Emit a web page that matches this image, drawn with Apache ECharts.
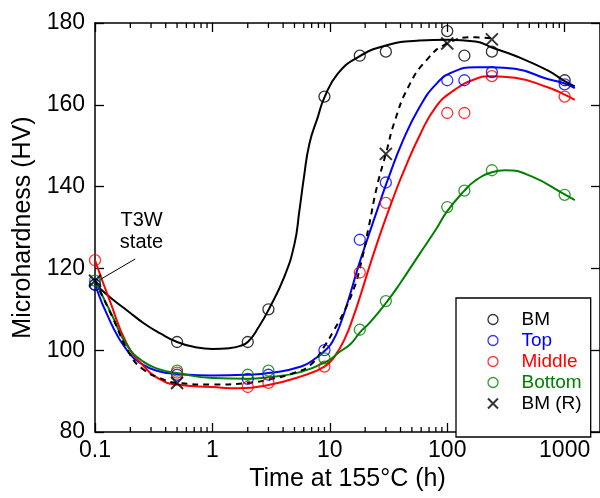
<!DOCTYPE html>
<html>
<head>
<meta charset="utf-8">
<script src="https://cdn.jsdelivr.net/npm/echarts@6/dist/echarts.min.js"></script>
<style>
html,body{margin:0;padding:0;background:#fff;}
#chart{width:600px;height:498px;}
</style>
</head>
<body>
<div id="chart"></div>
<script>
// ---------- data ----------
const xTickLabels = ['0.1', '1', '10', '100', '1000'];
const minorTickValues = [0.2,0.3,0.4,0.5,0.6,0.7,0.8,0.9, 2,3,4,5,6,7,8,9, 20,30,40,50,60,70,80,90, 200,300,400,500,600,700,800,900];

const sampleTimes = [0.1, 0.5, 2, 3, 9, 18, 30, 100, 140, 240, 1000];
const bmHV     = [116, 102, 102, 110, 162, 172, 173, 178, 172, 173, 166];
const topHV    = [116, 94, 93, 94, 100, 127, 141, 166, 166, 168, 165];
const middleHV = [122, 94.5, 91, 92, 96, 119, 136, 158, 158, 167, 162];
const bottomHV = [117, 95, 94, 95, 98, 105, 112, 135, 139, 144, 138];
const bmrTimes = [0.1, 0.5, 30, 100, 240];
const bmrHV    = [117, 92, 148, 175, 176];

// fitted curves
const bmFitT  = [0.1,0.14,0.19,0.26,0.36,0.5,0.7,1,1.4,1.7,2,2.47,3,4.1,5,5.5,6,6.7,7.9,9,11.6,17,30,58,100,174,240,378,716,1000,1220];
const bmFitHV = [116.2,112.5,109.6,106.6,104.1,102,100.8,100.3,100.5,101,102,105.6,109.8,118,126,134,142,150.5,157,161.8,167.5,171.5,174.5,175.7,175.9,175.5,174,172,168.4,165.8,164.5];

const topFitT  = [0.1,0.135,0.187,0.258,0.356,0.5,1,2,3,5.7,7.9,9,10.5,12.5,15,17.5,20.8,25.5,31,42,58,80,111,174,240,378,716,1000,1220];
const topFitHV = [116,107,100,96.4,94.8,94.2,93.8,94,94.4,96,98.4,99.8,102,107,114,120.5,127,134.5,141.5,151.3,159.4,165,168,169.2,169.2,168.8,166.3,165.2,164.1];

const midFitT  = [0.1,0.136,0.187,0.258,0.356,0.49,1,1.67,3,5.7,9,11,13.5,16,18.5,21.5,25.5,30.6,36,42.2,58.2,80,111,174,240,378,716,1000,1220];
const midFitHV = [122,111.5,101.5,96.2,92.9,91.6,91,90.7,91.5,93.6,96,98.5,103,108.5,114,120,126.5,133,138.5,143.5,152.5,159.5,163.3,166.3,167,166.6,164.3,162.5,161.2];

const botFitT  = [0.1,0.14,0.187,0.258,0.356,0.5,1,2,3,5.7,9.6,12,15,18,22,30,40,58,80,100,140,174,240,311,522,1000,1220];
const botFitHV = [117,108.5,101.2,97.2,95.3,94.4,93.2,93,93.4,94.7,97.4,99.5,101.5,104.3,106.8,111.5,116.5,123.5,129.5,134,139,141.5,143.5,144,142.5,138.1,136.7];

const bmrFitT  = [0.1,0.14,0.2,0.258,0.356,0.5,1,2,3,5,6.9,9,10.9,13,16,18,21.4,25.2,30,35.9,46.5,66,100,174,240];
const bmrFitHV = [117,108.2,98.8,95.3,93.2,92,91.6,92,92.8,94.5,96.5,101,105,109,115,120,130,140,148,156.2,164.3,170.8,175,176.5,176.2];

// annotation
const noteText = 'T3W\nstate';
const notePos = [0.249, 129];
const noteLine = [[0.105, 116.9], [0.22, 122.3]];

const xMin = 0.1, xMax = 2000, yMin = 80, yMax = 180, yStep = 20;

// ---------- helpers ----------
const zip = (a, b) => a.map((v, i) => [v, b[i]]);
const FONT = 'Liberation Sans, Arial, Helvetica, sans-serif';
const BLACK = '#000000', BLUE = '#0000ff', RED = '#ff0000', GREEN = '#008000';
const XPATH = 'path://M0,0L10,10M10,0L0,10';

function circleSeries(name, data, color) {
  return {
    name, type: 'scatter', data, symbol: 'circle', symbolSize: 11, z: 5,
    itemStyle: { color: 'rgba(0,0,0,0)', borderColor: color, borderWidth: 1.3 }
  };
}
function fitSeries(name, data, color, dashed) {
  return {
    name, type: 'line', data, showSymbol: false, smooth: 0.5, z: 3,
    lineStyle: { color, width: 2, type: dashed ? [6, 5] : 'solid' },
    emphasis: { disabled: true }
  };
}

const chart = echarts.init(document.getElementById('chart'), null, { renderer: 'canvas' });

const axisLineStyle = { color: BLACK, width: 1.5 };
const tickStyle = { color: BLACK, width: 1.3 };

const option = {
  animation: false,
  backgroundColor: '#ffffff',
  textStyle: { fontFamily: FONT },
  grid: { left: 95, right: -7, top: 23, bottom: 66, containLabel: false },
  xAxis: [
    {
      type: 'log', logBase: 10, min: xMin, max: xMax, position: 'bottom',
      axisLine: { show: true, lineStyle: axisLineStyle },
      axisTick: { show: true, inside: true, length: 9, lineStyle: tickStyle },
      splitLine: { show: false },
      axisLabel: {
        show: true, fontSize: 23, color: BLACK, fontFamily: FONT, margin: 7,
        showMaxLabel: false,
        formatter: function (v) {
          const l = Math.log10(v); const r = Math.round(l);
          if (Math.abs(l - r) > 1e-6) return '';
          const idx = r + 1;
          return xTickLabels[idx] !== undefined ? xTickLabels[idx] : '';
        }
      },
      name: 'Time at 155°C (h)', nameLocation: 'middle', nameGap: 34,
      nameTextStyle: { fontSize: 25, color: BLACK, fontFamily: FONT }
    },
    {
      type: 'log', logBase: 10, min: xMin, max: xMax, position: 'top',
      axisLine: { show: true, lineStyle: axisLineStyle },
      axisTick: { show: true, inside: true, length: 9, lineStyle: tickStyle },
      splitLine: { show: false }, axisLabel: { show: false }
    }
  ],
  yAxis: [
    {
      type: 'value', min: yMin, max: yMax, interval: yStep, position: 'left',
      axisLine: { show: true, lineStyle: axisLineStyle },
      axisTick: { show: true, inside: true, length: 9, lineStyle: tickStyle },
      splitLine: { show: false },
      axisLabel: { fontSize: 23, color: BLACK, fontFamily: FONT, margin: 10 },
      name: 'Microhardness (HV)', nameLocation: 'middle', nameGap: 58, nameRotate: 90,
      nameTextStyle: { fontSize: 25, color: BLACK, fontFamily: FONT }
    },
    {
      type: 'value', min: yMin, max: yMax, interval: yStep, position: 'right',
      axisLine: { show: true, lineStyle: axisLineStyle },
      axisTick: { show: true, inside: true, length: 9, lineStyle: tickStyle },
      splitLine: { show: false }, axisLabel: { show: false }
    }
  ],
  legend: {
    left: 456, top: 298, orient: 'vertical',
    padding: [12, 9, 24, 31],
    itemWidth: 47, itemHeight: 10, itemGap: 2,
    borderColor: BLACK, borderWidth: 1.3, backgroundColor: '#ffffff',
    selectedMode: false,
    textStyle: { fontSize: 19, lineHeight: 19, fontFamily: FONT },
    data: [
      { name: 'BM', icon: 'circle', itemStyle: { color: 'rgba(0,0,0,0)', borderColor: BLACK, borderWidth: 1.3 }, textStyle: { color: BLACK } },
      { name: 'Top', icon: 'circle', itemStyle: { color: 'rgba(0,0,0,0)', borderColor: BLUE, borderWidth: 1.3 }, textStyle: { color: BLUE } },
      { name: 'Middle', icon: 'circle', itemStyle: { color: 'rgba(0,0,0,0)', borderColor: RED, borderWidth: 1.3 }, textStyle: { color: RED } },
      { name: 'Bottom', icon: 'circle', itemStyle: { color: 'rgba(0,0,0,0)', borderColor: GREEN, borderWidth: 1.3 }, textStyle: { color: GREEN } },
      { name: 'BM (R)', icon: XPATH, itemStyle: { color: 'rgba(0,0,0,0)', borderColor: BLACK, borderWidth: 2 }, textStyle: { color: BLACK } }
    ]
  },
  series: [
    {
      name: 'minorTicks', type: 'custom', silent: true, z: 1, clip: false,
      data: minorTickValues.map(v => [v, yMin]),
      encode: { x: 0, y: 1 },
      renderItem: function (params, api) {
        const v = api.value(0);
        const b = api.coord([v, yMin]);
        const t = api.coord([v, yMax]);
        const st = { stroke: BLACK, lineWidth: 1.3 };
        return {
          type: 'group', children: [
            { type: 'line', shape: { x1: b[0], y1: b[1], x2: b[0], y2: b[1] - 5 }, style: st },
            { type: 'line', shape: { x1: t[0], y1: t[1], x2: t[0], y2: t[1] + 5 }, style: st }
          ]
        };
      }
    },
    Object.assign(fitSeries('BM fit', zip(bmFitT, bmFitHV), BLACK, false), {
      markLine: {
        silent: true, symbol: ['none', 'none'], label: { show: false },
        lineStyle: { color: BLACK, width: 1, type: 'solid' },
        data: [[{ coord: noteLine[0] }, { coord: noteLine[1] }]]
      },
      markPoint: {
        silent: true, symbol: 'rect', symbolSize: 1,
        itemStyle: { color: 'rgba(0,0,0,0)' },
        label: { show: true, position: 'inside', formatter: noteText, fontSize: 20, lineHeight: 22, color: BLACK, fontFamily: FONT },
        data: [{ coord: notePos }]
      }
    }),
    fitSeries('Top fit', zip(topFitT, topFitHV), BLUE, false),
    fitSeries('Middle fit', zip(midFitT, midFitHV), RED, false),
    fitSeries('Bottom fit', zip(botFitT, botFitHV), GREEN, false),
    fitSeries('BM (R) fit', zip(bmrFitT, bmrFitHV), BLACK, true),
    circleSeries('BM', zip(sampleTimes, bmHV), BLACK),
    circleSeries('Top', zip(sampleTimes, topHV), BLUE),
    circleSeries('Middle', zip(sampleTimes, middleHV), RED),
    circleSeries('Bottom', zip(sampleTimes, bottomHV), GREEN),
    {
      name: 'BM (R)', type: 'scatter', data: zip(bmrTimes, bmrHV), symbol: XPATH, symbolSize: 12, z: 6,
      itemStyle: { color: 'rgba(0,0,0,0)', borderColor: BLACK, borderWidth: 2 }
    }
  ]
};
chart.setOption(option);
</script>
</body>
</html>
